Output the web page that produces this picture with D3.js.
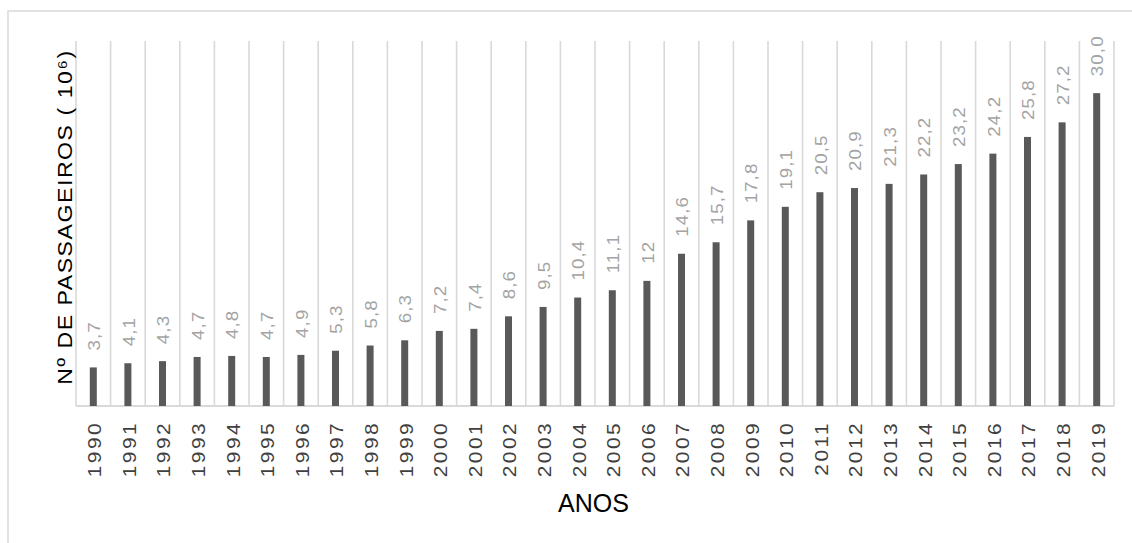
<!DOCTYPE html>
<html>
<head>
<meta charset="utf-8">
<script src="https://cdn.jsdelivr.net/npm/d3@7"></script>
<style>
  html, body { margin: 0; padding: 0; background: #fff; }
  svg { display: block; font-family: "Liberation Sans", Arial, sans-serif; }
</style>
</head>
<body>
<svg id="chart" width="1132" height="543"></svg>
<script>
// Annual passengers (millions), 1990–2019
const years = ["1990","1991","1992","1993","1994","1995","1996","1997","1998","1999",
               "2000","2001","2002","2003","2004","2005","2006","2007","2008","2009",
               "2010","2011","2012","2013","2014","2015","2016","2017","2018","2019"];
const passengers = [3.7, 4.1, 4.3, 4.7, 4.8, 4.7, 4.9, 5.3, 5.8, 6.3,
                    7.2, 7.4, 8.6, 9.5, 10.4, 11.1, 12, 14.6, 15.7, 17.8,
                    19.1, 20.5, 20.9, 21.3, 22.2, 23.2, 24.2, 25.8, 27.2, 30.0];
const valueLabels = ["3,7","4,1","4,3","4,7","4,8","4,7","4,9","5,3","5,8","6,3",
                     "7,2","7,4","8,6","9,5","10,4","11,1","12","14,6","15,7","17,8",
                     "19,1","20,5","20,9","21,3","22,2","23,2","24,2","25,8","27,2","30,0"];
const yMax = 35;
const yTitle = "Nº DE PASSAGEIROS ( 10⁶)";
const xTitle = "ANOS";

const svg = d3.select("#chart");
const plot = { left: 76, right: 1114, top: 41, bottom: 406 };
const tall = 1.1; // rotated labels are drawn slightly elongated

// frame around the whole chart
svg.append("rect")
  .attr("x", 8).attr("y", 11)
  .attr("width", 1160).attr("height", 560)
  .attr("fill", "none").attr("stroke", "#d9d9d9").attr("stroke-width", 1.5);

const x = d3.scaleBand().domain(years).range([plot.left, plot.right]).padding(0);
const y = d3.scaleLinear().domain([0, yMax]).range([plot.bottom, plot.top]);

// vertical gridlines at category boundaries
const bounds = years.map(d => x(d)).concat([plot.right]);
svg.append("g").selectAll("line").data(bounds).join("line")
  .attr("x1", d => d).attr("x2", d => d)
  .attr("y1", y(yMax)).attr("y2", y(0))
  .attr("stroke", "#d9d9d9").attr("stroke-width", 1.6);

// category axis line
svg.append("line")
  .attr("x1", plot.left).attr("x2", plot.right)
  .attr("y1", y(0)).attr("y2", y(0))
  .attr("stroke", "#d9d9d9").attr("stroke-width", 2);

// bars
const barW = 7;
svg.append("g").selectAll("rect").data(passengers).join("rect")
  .attr("x", (d, i) => x(years[i]) + x.bandwidth() / 2 - barW / 2)
  .attr("y", d => y(d))
  .attr("width", barW)
  .attr("height", d => y(0) - y(d))
  .attr("fill", "#595959");

// value labels, rotated, above each bar
svg.append("g").selectAll("text").data(passengers).join("text")
  .attr("transform", (d, i) =>
    `translate(${x(years[i]) + x.bandwidth() / 2 + 0.5},${y(d) - 17}) scale(1,${tall}) rotate(-90)`)
  .attr("dy", "0.36em")
  .attr("text-anchor", "start")
  .attr("font-size", 17)
  .attr("letter-spacing", 1)
  .attr("fill", "#a3a3a3")
  .text((d, i) => valueLabels[i]);

// year tick labels, rotated
svg.append("g").selectAll("text").data(years).join("text")
  .attr("transform", d =>
    `translate(${x(d) + x.bandwidth() / 2 + 1},${423 - 2}) scale(1,${tall}) rotate(-90)`)
  .attr("dy", "0.36em")
  .attr("text-anchor", "end")
  .attr("font-size", 19)
  .attr("letter-spacing", 2.2)
  .attr("fill", "#404040")
  .text(d => d);

// axis titles
svg.append("text")
  .attr("transform", `translate(64,217) scale(1,${tall}) rotate(-90)`)
  .attr("dy", "0.36em")
  .attr("text-anchor", "middle")
  .attr("font-size", 21)
  .attr("letter-spacing", 1.4)
  .attr("fill", "#000")
  .text(yTitle);

svg.append("text")
  .attr("transform", `translate(593.5,512) scale(1,1.06)`)
  .attr("text-anchor", "middle")
  .attr("font-size", 25)
  .attr("fill", "#000")
  .text(xTitle);
</script>
</body>
</html>
